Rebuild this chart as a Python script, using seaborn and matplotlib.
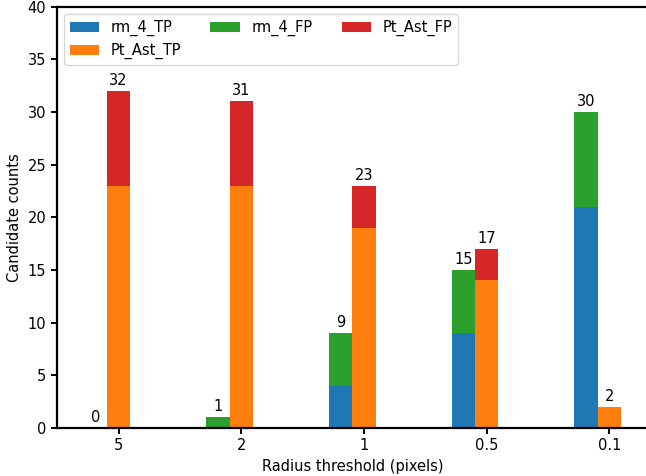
import numpy as np
import matplotlib
matplotlib.use("Agg")
import matplotlib.pyplot as plt
import seaborn as sns

# values
thresholds = ["5", "2", "1", "0.5", "0.1"]
rm_4_tp = [0, 0, 4, 9, 21]
rm_4_fp = [0, 1, 5, 6, 9]
pt_ast_tp = [23, 23, 19, 14, 2]
pt_ast_fp = [9, 8, 4, 3, 0]

pal = sns.color_palette("tab10")
c_blue, c_orange, c_green, c_red = pal[0], pal[1], pal[2], pal[3]

plt.rcParams["font.size"] = 10.5
plt.rcParams["axes.linewidth"] = 1.6
plt.rcParams["xtick.major.width"] = 1.4
plt.rcParams["ytick.major.width"] = 1.4
plt.rcParams["xtick.major.size"] = 4
plt.rcParams["ytick.major.size"] = 4

fig = plt.figure(figsize=(6.46, 4.76), dpi=100)
# right spine falls just outside the canvas, as in the reference crop
ax = fig.add_axes([0.088, 0.101, 0.915, 0.885])

ind = np.arange(len(thresholds))
width = 0.19

rm_tot = np.array(rm_4_tp) + np.array(rm_4_fp)
pt_tot = np.array(pt_ast_tp) + np.array(pt_ast_fp)

b1 = ax.bar(ind - width, rm_4_tp, width, color=c_blue, label="rm_4_TP")
b2 = ax.bar(ind - width, rm_4_fp, width, bottom=rm_4_tp, color=c_green, label="rm_4_FP")
b3 = ax.bar(ind, pt_ast_tp, width, color=c_orange, label="Pt_Ast_TP")
b4 = ax.bar(ind, pt_ast_fp, width, bottom=pt_ast_tp, color=c_red, label="Pt_Ast_FP")

# totals on top of each stack
for x, t in zip(ind - width, rm_tot):
    ax.text(x, t + 0.3, str(t), ha="center", va="bottom")
for x, t in zip(ind, pt_tot):
    ax.text(x, t + 0.3, str(t), ha="center", va="bottom")

ax.set_ylim(0, 40)
ax.set_xticks(ind)
ax.set_xticklabels(thresholds)
ax.set_xlabel("Radius threshold (pixels)")
ax.set_ylabel("Candidate counts")

ax.legend(handles=[b1, b3, b2, b4], ncol=3, loc="upper left")

fig.savefig("out.png", dpi=100)
